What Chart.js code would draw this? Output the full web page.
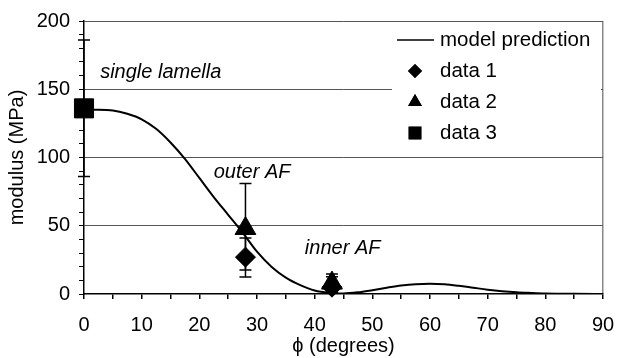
<!DOCTYPE html>
<html>
<head>
<meta charset="utf-8">
<script src="https://cdn.jsdelivr.net/npm/chart.js@4.4.0/dist/chart.umd.min.js"></script>
<style>
  body { margin: 0; background: #fff; }
  #wrap { width: 621px; height: 358px; }
</style>
</head>
<body>
<div id="wrap"><canvas id="myChart" width="621" height="358"></canvas></div>
<script>
// model curve
const modelPhi = [0, 2.5, 5, 7.5, 10, 12.5, 15, 17.5, 20, 22.5, 25, 27.5, 30, 32.5, 35, 37.5, 40, 42.5, 45, 47.5, 50, 52.5, 55, 57.5, 60, 62.5, 65, 67.5, 70, 72.5, 75, 77.5, 80, 85, 90];
const modelVal = [135, 135, 134.5, 132, 128, 121, 111, 99, 85, 71, 58, 45, 31, 20, 12, 6.5, 2.5, 0.8, 0.4, 1.2, 2.8, 4.6, 6.2, 7.2, 7.5, 7.1, 6, 4.6, 3.2, 2.1, 1.3, 0.8, 0.4, 0.1, 0];

// measured points
const data1Phi = [28, 43];
const data1Val = [27, 5];
const data1Low = [12.5, 1];
const data1High = [41, 12.7];

const data2Phi = [28, 43];
const data2Val = [48, 8];
const data2Low = [17.5, 2];
const data2High = [81, 14.6];

const data3Phi = [0];
const data3Val = [136];
const data3Low = [86];
const data3High = [186];

const seriesNames = ['model prediction', 'data 1', 'data 2', 'data 3'];
const notes = [
  { text: 'single lamella', phi: 2.8, val: 162.6 },
  { text: 'outer AF', phi: 22.5, val: 89.4 },
  { text: 'inner AF', phi: 38.3, val: 33.7 }
];

const FONT = '"Liberation Sans", Arial, Helvetica, sans-serif';

const toPts = (xs, ys) => xs.map((x, i) => ({ x: x, y: ys[i] }));

const errorBars = {
  id: 'errorBars',
  afterDatasetsDraw(chart) {
    const ctx = chart.ctx;
    const xs = chart.scales.x, ys = chart.scales.y;
    chart.data.datasets.forEach((ds) => {
      if (!ds.errLow) return;
      ds.data.forEach((p, i) => {
        const px = xs.getPixelForValue(p.x);
        const y1 = ys.getPixelForValue(ds.errLow[i]);
        const y2 = ys.getPixelForValue(ds.errHigh[i]);
        ctx.save();
        ctx.strokeStyle = '#000';
        ctx.lineWidth = 1.5;
        ctx.beginPath();
        ctx.moveTo(px, y1); ctx.lineTo(px, y2);
        ctx.moveTo(px - 6, y1); ctx.lineTo(px + 6, y1);
        ctx.moveTo(px - 6, y2); ctx.lineTo(px + 6, y2);
        ctx.stroke();
        ctx.restore();
      });
    });
  }
};

const notesAndLegend = {
  id: 'notesAndLegend',
  afterDraw(chart) {
    const ctx = chart.ctx;
    const xs = chart.scales.x, ys = chart.scales.y;
    ctx.save();
    ctx.fillStyle = '#000';
    ctx.font = 'italic 20px ' + FONT;
    ctx.textBaseline = 'middle';
    ctx.textAlign = 'left';
    notes.forEach(n => ctx.fillText(n.text, xs.getPixelForValue(n.phi), ys.getPixelForValue(n.val)));

    // legend box inside plot area
    const area = chart.chartArea;
    const bx = area.right - 211, by = area.top + 3;
    ctx.fillStyle = '#fff';
    ctx.fillRect(bx, by, 209, 122);
    ctx.fillStyle = '#000';
    ctx.font = '20.5px ' + FONT;
    const rowH = 31;
    chart.data.datasets.forEach((ds, i) => {
      const cy = by + 16 + i * rowH;
      if (ds.showLine) {
        ctx.strokeStyle = '#000';
        ctx.lineWidth = 1.5;
        ctx.beginPath();
        ctx.moveTo(bx + 5, cy); ctx.lineTo(bx + 42, cy);
        ctx.stroke();
      } else {
        Chart.helpers.drawPoint(ctx, { pointStyle: ds.pointStyle, radius: ds.legendRadius, borderWidth: 0, rotation: 0 }, bx + 23, cy);
        ctx.fill();
      }
      ctx.fillText(ds.label, bx + 48, cy);
    });
    ctx.restore();
  }
};

const ctx = document.getElementById('myChart').getContext('2d');
const myChart = new Chart(ctx, {
  type: 'scatter',
  data: {
    datasets: [{
      label: seriesNames[0],
      data: toPts(modelPhi, modelVal),
      showLine: true,
      borderColor: '#000',
      borderWidth: 2,
      pointRadius: 0,
      cubicInterpolationMode: 'monotone'
    }, {
      label: seriesNames[1],
      data: toPts(data1Phi, data1Val),
      pointStyle: 'rectRot',
      pointRadius: 10,
      legendRadius: 7,
      backgroundColor: '#000',
      borderColor: '#000',
      errLow: data1Low,
      errHigh: data1High,
      clip: false
    }, {
      label: seriesNames[2],
      data: toPts(data2Phi, data2Val),
      pointStyle: 'triangle',
      pointRadius: 12,
      legendRadius: 8,
      backgroundColor: '#000',
      borderColor: '#000',
      errLow: data2Low,
      errHigh: data2High,
      clip: false
    }, {
      label: seriesNames[3],
      data: toPts(data3Phi, data3Val),
      pointStyle: 'rect',
      pointRadius: 13.5,
      legendRadius: 9,
      backgroundColor: '#000',
      borderColor: '#000',
      errLow: data3Low,
      errHigh: data3High,
      clip: false
    }]
  },
  options: {
    responsive: false,
    animation: false,
    layout: { padding: { top: 21, right: 18, left: 0, bottom: 0 } },
    plugins: {
      legend: { display: false },
      tooltip: { enabled: false }
    },
    scales: {
      x: {
        type: 'linear',
        min: 0, max: 90,
        afterFit: (s) => { s.height = 64; s.paddingLeft = 0; s.paddingRight = 0; },
        ticks: {
          stepSize: 5,
          autoSkip: false,
          maxRotation: 0,
          padding: 14,
          color: '#000',
          font: { family: FONT, size: 20 },
          callback: (v) => (v % 10 === 0 ? v : '')
        },
        grid: {
          color: (c) => (c.tick && c.tick.value === 90 ? '#888' : 'rgba(0,0,0,0)'),
          tickColor: '#000',
          tickLength: 5,
          lineWidth: 1.5
        },
        border: { color: '#000', width: 1.5 },
        title: {
          display: true,
          text: 'ϕ (degrees)',
          color: '#000',
          font: { family: FONT, size: 20 },
          padding: { top: 0, bottom: 0 }
        }
      },
      y: {
        min: 0, max: 200,
        afterFit: (s) => { s.width = 84; },
        ticks: {
          stepSize: 10,
          autoSkip: false,
          padding: 9,
          color: '#000',
          font: { family: FONT, size: 20 },
          callback: (v) => (v % 50 === 0 ? v : '')
        },
        grid: {
          color: (c) => (c.tick && c.tick.value % 50 === 0 && c.tick.value > 0 ? '#555' : 'rgba(0,0,0,0)'),
          tickColor: '#000',
          tickLength: 5,
          lineWidth: 1
        },
        border: { color: '#000', width: 1.5 },
        title: {
          display: true,
          text: 'modulus (MPa)',
          color: '#000',
          font: { family: FONT, size: 20 },
          padding: { top: 5, bottom: 0 }
        }
      }
    }
  },
  plugins: [errorBars, notesAndLegend]
});
</script>
</body>
</html>
